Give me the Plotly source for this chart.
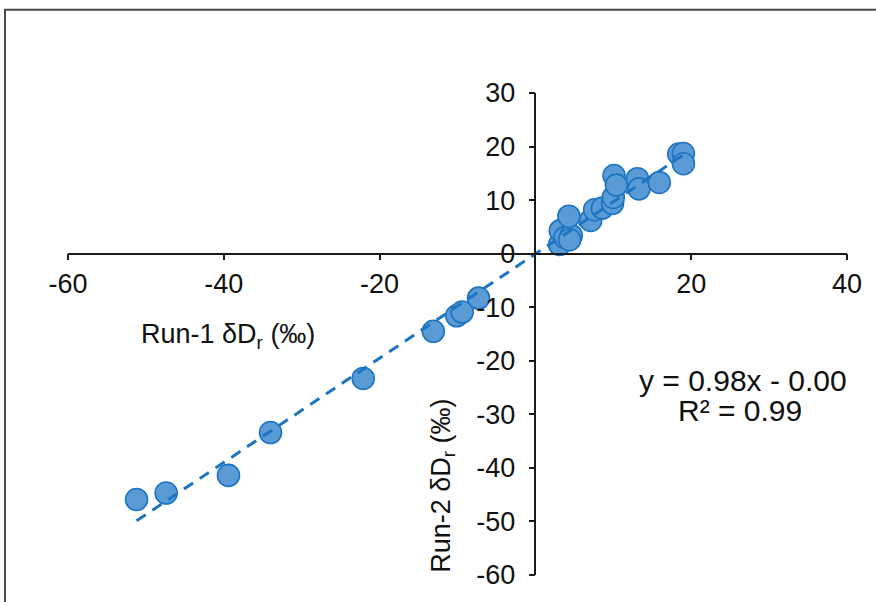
import numpy as np
import plotly.graph_objects as go

# Run-1 vs Run-2 δDr values (‰)
run1 = [-51.2, -47.4, -39.4, -34.0, -22.1, -13.1, -10.1, -9.4, -7.3,
        3.1, 3.2, 3.8, 4.6, 4.4, 4.3, 7.1, 7.6, 8.6, 9.9, 10.0, 10.1, 10.4,
        13.1, 13.3, 15.9, 18.4, 19.0, 19.0]
run2 = [-45.9, -44.7, -41.4, -33.4, -23.3, -14.5, -11.6, -10.9, -8.3,
        1.7, 4.3, 3.0, 3.4, 2.6, 7.0, 6.2, 8.2, 8.5, 9.4, 10.5, 14.6, 12.8,
        14.0, 12.1, 13.3, 18.6, 18.7, 16.8]

x_ticks = [-60, -40, -20, 20, 40]
y_ticks = [-60, -50, -40, -30, -20, -10, 0, 10, 20, 30]
eq_text = "y = 0.98x - 0.00"
r2_text = "R² = 0.99"
x_title = "Run-1 δD<sub>r</sub> (‰)"
y_title = "Run-2 δD<sub>r</sub> (‰)"

slope, intercept = np.polyfit(run1, run2, 1)
tx = np.array([min(run1), max(run1)])
ty = slope * tx + intercept

FONT = "Liberation Sans, Arial, sans-serif"
AX = "#1a1a1a"
TXT = "#111"
FS = 27

fig = go.Figure()
fig.add_trace(go.Scatter(
    x=run1, y=run2, mode="markers",
    marker=dict(size=22, color="#5B9BD5", line=dict(color="#1C74C2", width=1.6)),
    showlegend=False, hoverinfo="skip"))
fig.add_trace(go.Scatter(
    x=tx, y=ty, mode="lines",
    line=dict(color="#1C74C2", width=3, dash="11px,8px"),
    showlegend=False, hoverinfo="skip"))

L, R, T, B = 68, 29, 93, 17
W, H = 876, 602
pw, ph = W - L - R, H - T - B

fig.update_layout(
    width=W, height=H,
    margin=dict(l=L, r=R, t=T, b=B),
    paper_bgcolor="white", plot_bgcolor="white",
    font=dict(family=FONT, size=FS, color=TXT),
    hovermode=False,
    xaxis=dict(range=[-60, 40], tickvals=x_ticks, ticktext=[str(v) for v in x_ticks],
               showgrid=False, zeroline=False, showline=True, linecolor=AX, linewidth=1.5,
               ticks="outside", ticklen=6, tickwidth=1.5, tickcolor=AX,
               anchor="free", position=60 / 90, tickfont=dict(size=FS, family=FONT, color=TXT)),
    yaxis=dict(range=[-60, 30], tickvals=y_ticks, ticktext=[str(v) for v in y_ticks],
               showgrid=False, zeroline=False, showline=True, linecolor=AX, linewidth=1.5,
               ticks="outside", ticklen=6, tickwidth=1.5, tickcolor=AX, ticklabelstandoff=8,
               anchor="free", position=60 / 100, tickfont=dict(size=FS, family=FONT, color=TXT)),
    annotations=[
        dict(x=-39.4, y=-15.3, xref="x", yref="y", text=x_title, showarrow=False,
             font=dict(size=FS, family=FONT, color=TXT)),
        dict(x=-11.9, y=-43.4, xref="x", yref="y", text=y_title, showarrow=False,
             textangle=-90, font=dict(size=FS, family=FONT, color=TXT)),
        dict(x=26.6, y=-23.6, xref="x", yref="y", text=eq_text, showarrow=False,
             font=dict(size=30, family=FONT, color=TXT)),
        dict(x=26.3, y=-29.3, xref="x", yref="y", text=r2_text, showarrow=False,
             font=dict(size=30, family=FONT, color=TXT)),
    ],
    shapes=[dict(type="rect", xref="paper", yref="paper",
                 x0=(5 - L) / pw, x1=1.5, y0=-0.5, y1=(H - B - 8) / ph,
                 line=dict(color="#4a4a4a", width=2), fillcolor="rgba(0,0,0,0)", layer="below")],
)

fig.write_html("out.html", config={"displayModeBar": False})
